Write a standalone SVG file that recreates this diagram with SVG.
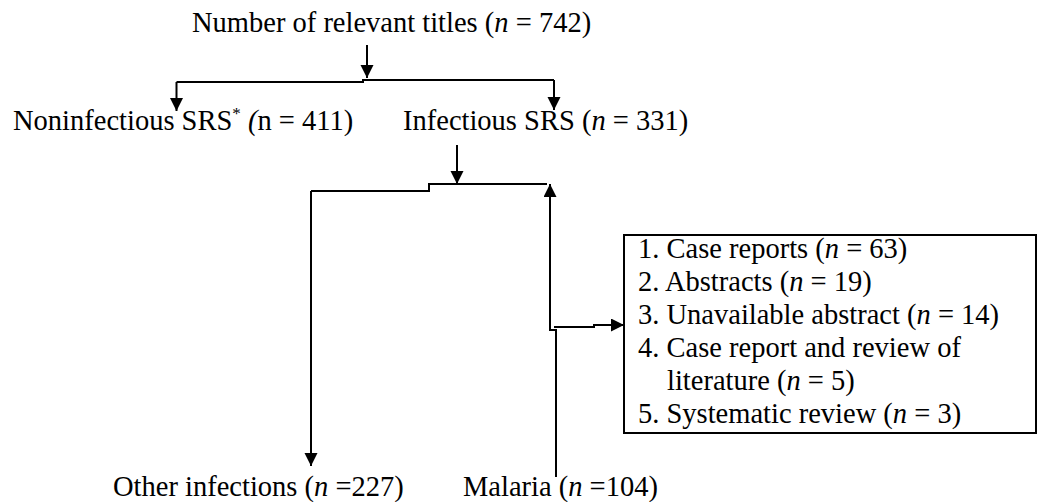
<svg xmlns="http://www.w3.org/2000/svg" width="1039" height="502" viewBox="0 0 1039 502">
<style>
text{font-family:"Liberation Serif","Times New Roman",serif;font-size:28.5px;fill:#000}
.it{font-style:italic}
.ln{fill:none;stroke:#000;stroke-width:2}
.box{fill:#fff;stroke:#000;stroke-width:2}
</style>
<defs>
<marker id="ah" markerUnits="userSpaceOnUse" markerWidth="14" markerHeight="14" refX="13" refY="6.5" orient="auto">
<path d="M0,0 L13,6.5 L0,13 z" fill="#000"/>
</marker>
</defs>
<rect width="1039" height="502" fill="#fff"/>
<g id="connectors">
<path class="ln" d="M367,45 V78" marker-end="url(#ah)"/>
<path class="ln" d="M176.5,82 H363 V80 H554"/>
<path class="ln" d="M176.5,82 V111" marker-end="url(#ah)"/>
<path class="ln" d="M554,80 V110" marker-end="url(#ah)"/>
<path class="ln" d="M457,145 V184" marker-end="url(#ah)"/>
<path class="ln" d="M311,191 H429 V184 H547"/>
<path class="ln" d="M311,191 V466" marker-end="url(#ah)"/>
<path class="ln" d="M556,477 V330 H550 V184" marker-end="url(#ah)"/>
<path class="ln" d="M554,327 H594 V325 H624" marker-end="url(#ah)"/>
</g>
<g id="n-total">
<text x="192" y="32">Number of relevant titles (<tspan class="it">n</tspan> = 742)</text>
</g>
<g id="n-noninf">
<text x="13" y="130">Noninfectious SRS<tspan font-size="17" dy="-11">*</tspan><tspan dy="11" class="it"> (</tspan>n = 411)</text>
</g>
<g id="n-inf">
<text x="403" y="130">Infectious SRS (<tspan class="it">n</tspan> = 331)</text>
</g>
<g id="n-box">
<rect class="box" x="624" y="235" width="412" height="198"/>
<text x="638" y="258">1. Case reports (<tspan class="it">n</tspan> = 63)</text>
<text x="638" y="291">2. Abstracts (<tspan class="it">n</tspan> = 19)</text>
<text x="638" y="324">3. Unavailable abstract (<tspan class="it">n</tspan> = 14)</text>
<text x="638" y="357">4. Case report and review of</text>
<text x="667" y="390">literature (<tspan class="it">n</tspan> = 5)</text>
<text x="638" y="423">5. Systematic review (<tspan class="it">n</tspan> = 3)</text>
</g>
<g id="n-other">
<text x="113" y="496">Other infections (<tspan class="it">n</tspan> =227)</text>
</g>
<g id="n-malaria">
<text x="463" y="496">Malaria (<tspan class="it">n</tspan> =104)</text>
</g>
</svg>
